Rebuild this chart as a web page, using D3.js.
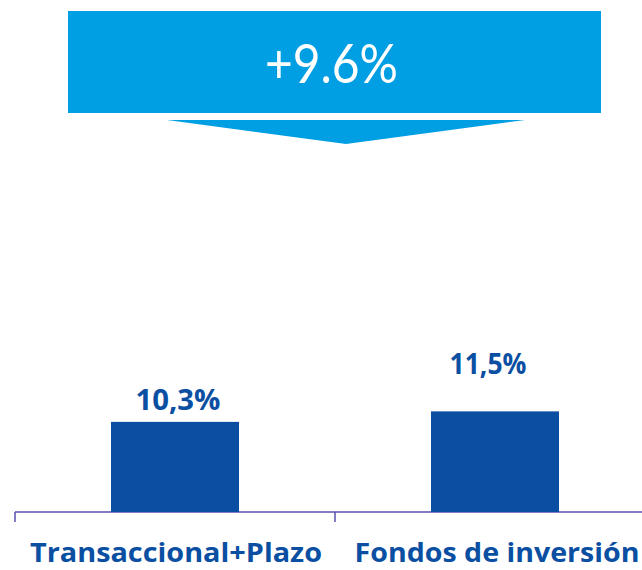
<!DOCTYPE html>
<html>
<head>
<meta charset="utf-8">
<script src="https://cdn.jsdelivr.net/npm/d3@7"></script>
<style>
  html, body { margin: 0; padding: 0; background: #fff; }
  svg { display: block; }
</style>
</head>
<body>
<div id="chart"></div>
<script>
const categories = ["Transaccional+Plazo", "Fondos de inversión"];
const values = [10.3, 11.5];
const valueLabels = ["10,3%", "11,5%"];
const totalGrowth = "+9.6%";

const width = 642;
const height = 570;
const darkBlue = "#0a4fa2";
const lightBlue = "#009fe3";
const axisColor = "#5a50ae";
const baseline = 512;

const svg = (
    d3.select("#chart")
    .append("svg")
    .attr("width", width)
    .attr("height", height)
);

// banner with the total growth
svg.append("rect")
    .attr("x", 68).attr("y", 11)
    .attr("width", 533).attr("height", 102)
    .attr("fill", lightBlue);
svg.append("path")
    .attr("d", "M167,120 L525,120 L346,144 Z")
    .attr("fill", lightBlue);
svg.append("text")
    .attr("x", 265).attr("y", 83)
    .attr("font-family", "Lato, sans-serif")
    .attr("font-size", 54)
    .attr("textLength", 133)
    .attr("lengthAdjust", "spacingAndGlyphs")
    .attr("fill", "#fff")
    .text(totalGrowth);

const xScale = d3.scaleBand().domain(categories).range([15, 655]);
const yScale = d3.scaleLinear().domain([0, 10]).range([baseline, baseline - 87.5]);

const xAxis = d3.axisBottom(xScale).tickSize(0).tickFormat("");
const axisG = svg.append("g")
    .attr("transform", `translate(0, ${baseline})`)
    .call(xAxis);
axisG.select(".domain").remove();
axisG.append("line")
    .attr("x1", 15).attr("x2", width)
    .attr("stroke", axisColor).attr("stroke-width", 1.5);
// separators at band boundaries
axisG.selectAll(".sep")
    .data(categories)
    .join("line")
    .attr("class", "sep")
    .attr("x1", (d) => xScale(d)).attr("x2", (d) => xScale(d))
    .attr("y1", 0).attr("y2", 10)
    .attr("stroke", axisColor).attr("stroke-width", 1.5);

const barWidth = xScale.bandwidth() * 0.4;
const labelGap = [12, 37];
const labelShift = [3, -7];
const labelWidth = [85, 77];
const catShift = [1, 2];
const catWidth = [292, 285];

categories.forEach((cat, i) => {
    const cx = xScale(cat) + xScale.bandwidth() / 2;
    svg.append("rect")
        .attr("x", cx - barWidth / 2)
        .attr("y", yScale(values[i]))
        .attr("width", barWidth)
        .attr("height", baseline - yScale(values[i]))
        .attr("fill", darkBlue);
    svg.append("text")
        .attr("x", cx + labelShift[i] - labelWidth[i] / 2)
        .attr("y", yScale(values[i]) - labelGap[i])
        .attr("font-family", "'Open Sans', sans-serif")
        .attr("font-weight", "bold")
        .attr("font-size", 28)
        .attr("textLength", labelWidth[i])
        .attr("lengthAdjust", "spacingAndGlyphs")
        .attr("fill", darkBlue)
        .text(valueLabels[i]);
    svg.append("text")
        .attr("x", cx + catShift[i] - catWidth[i] / 2)
        .attr("y", 562)
        .attr("font-family", "'Open Sans', sans-serif")
        .attr("font-weight", "bold")
        .attr("font-size", 27)
        .attr("textLength", catWidth[i])
        .attr("lengthAdjust", "spacingAndGlyphs")
        .attr("fill", darkBlue)
        .text(cat);
});
</script>
</body>
</html>
